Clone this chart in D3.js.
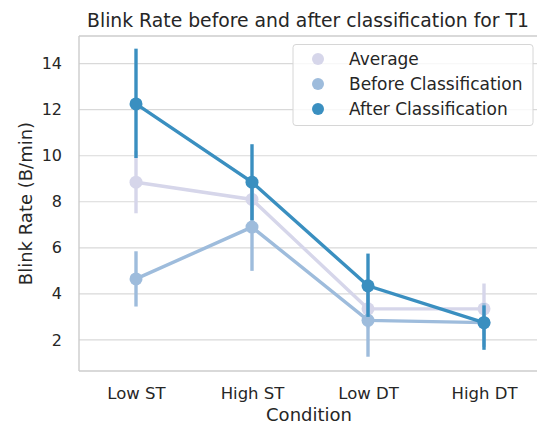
<!DOCTYPE html>
<html>
<head>
<meta charset="utf-8">
<script src="https://cdn.jsdelivr.net/npm/d3@7"></script>
<style>
  body { margin: 0; background: #fff; }
  text { font-family: "DejaVu Sans", sans-serif; fill: #262626; }
</style>
</head>
<body>
<figure id="chart" style="margin:0"></figure>
<script>
// chart data
const conditions = ["Low ST", "High ST", "Low DT", "High DT"];
const seriesNames = ["Average", "Before Classification", "After Classification"];
const averageMean = [8.85, 8.1, 3.35, 3.35];
const averageLow = [7.5, 7.2, 2.5, 2.2];
const averageHigh = [10.2, 9.0, 4.2, 4.45];
const beforeMean = [4.65, 6.9, 2.85, 2.75];
const beforeLow = [3.45, 5.0, 1.27, 1.7];
const beforeHigh = [5.85, 8.8, 4.4, 3.6];
const afterMean = [12.25, 8.85, 4.35, 2.75];
const afterLow = [9.9, 7.2, 3.0, 1.57];
const afterHigh = [14.65, 10.5, 5.75, 3.5];
const yTicks = [2, 4, 6, 8, 10, 12, 14];
const colors = ["#d6d6ea", "#9ebcdc", "#3a8fc0"];

const width = 537, height = 426;
const plotLeft = 79, plotTop = 36, plotBottom = 371;

const series = [
  {name: seriesNames[0], mean: averageMean, lo: averageLow, hi: averageHigh, color: colors[0]},
  {name: seriesNames[1], mean: beforeMean, lo: beforeLow, hi: beforeHigh, color: colors[1]},
  {name: seriesNames[2], mean: afterMean, lo: afterLow, hi: afterHigh, color: colors[2]}
];

const svg = d3.select("#chart").append("svg")
  .attr("width", width)
  .attr("height", height);

const x = d3.scalePoint()
  .domain(conditions)
  .range([136, 484]);

const y = d3.scaleLinear()
  .domain([0.65, 15.2])
  .range([plotBottom, plotTop]);

// grid
svg.append("g")
  .selectAll("line")
  .data(yTicks)
  .enter()
  .append("line")
  .attr("x1", plotLeft).attr("x2", width)
  .attr("y1", d => y(d)).attr("y2", d => y(d))
  .style("stroke", "#d9d9d9")
  .style("stroke-width", 1.2);

// spines
svg.append("line")
  .attr("x1", plotLeft).attr("x2", plotLeft).attr("y1", plotTop).attr("y2", plotBottom)
  .style("stroke", "#cccccc").style("stroke-width", 1.4);
svg.append("line")
  .attr("x1", plotLeft).attr("x2", width).attr("y1", plotBottom).attr("y2", plotBottom)
  .style("stroke", "#cccccc").style("stroke-width", 1.4);
svg.append("line")
  .attr("x1", plotLeft).attr("x2", width).attr("y1", plotTop).attr("y2", plotTop)
  .style("stroke", "#cccccc").style("stroke-width", 1.4);

// axes
const yAxis = svg.append("g")
  .attr("transform", "translate(" + plotLeft + ",0)")
  .call(d3.axisLeft(y).tickValues(yTicks).tickSize(0).tickPadding(17));
yAxis.select(".domain").remove();
yAxis.selectAll("text").style("font-size", "16px").style("fill", "#262626");

const xAxis = svg.append("g")
  .attr("transform", "translate(0," + plotBottom + ")")
  .call(d3.axisBottom(x).tickSize(0).tickPadding(16.5));
xAxis.select(".domain").remove();
xAxis.selectAll("text").style("font-size", "16.5px").style("fill", "#262626");

// series lines, error bars, points
series.forEach(s => {
  const g = svg.append("g");
  const line = d3.line()
    .x((d, i) => x(conditions[i]))
    .y(d => y(d));
  g.append("path")
    .datum(s.mean)
    .attr("d", line)
    .style("fill", "none")
    .style("stroke", s.color)
    .style("stroke-width", 3.4);
  g.selectAll(".err")
    .data(conditions)
    .enter()
    .append("line")
    .attr("x1", d => x(d)).attr("x2", d => x(d))
    .attr("y1", (d, i) => y(s.lo[i]))
    .attr("y2", (d, i) => y(s.hi[i]))
    .style("stroke", s.color)
    .style("stroke-width", 3.4);
  g.selectAll("circle")
    .data(s.mean)
    .enter()
    .append("circle")
    .attr("cx", (d, i) => x(conditions[i]))
    .attr("cy", d => y(d))
    .attr("r", 6.5)
    .style("fill", s.color);
});

// legend
const legend = svg.append("g");
legend.append("rect")
  .attr("x", 293).attr("y", 44.5)
  .attr("width", 240).attr("height", 81)
  .attr("rx", 3)
  .style("fill", "#ffffff").style("fill-opacity", 0.8)
  .style("stroke", "#d6d6d6");
series.forEach((s, i) => {
  legend.append("circle")
    .attr("cx", 318).attr("cy", 59 + i * 25)
    .attr("r", 6)
    .style("fill", s.color);
  legend.append("text")
    .attr("x", 349).attr("y", 59 + i * 25)
    .attr("dy", "0.35em")
    .style("font-size", "17px")
    .text(s.name);
});

// title and axis labels
svg.append("text")
  .attr("x", (plotLeft + width) / 2).attr("y", 27)
  .style("text-anchor", "middle")
  .style("font-size", "18.8px")
  .text("Blink Rate before and after classification for T1");

svg.append("text")
  .attr("x", 309).attr("y", 421)
  .style("text-anchor", "middle")
  .style("font-size", "18px")
  .text("Condition");

svg.append("text")
  .attr("transform", "rotate(-90)")
  .attr("x", -(plotTop + plotBottom) / 2).attr("y", 32)
  .style("text-anchor", "middle")
  .style("font-size", "18px")
  .text("Blink Rate (B/min)");
</script>
</body>
</html>
